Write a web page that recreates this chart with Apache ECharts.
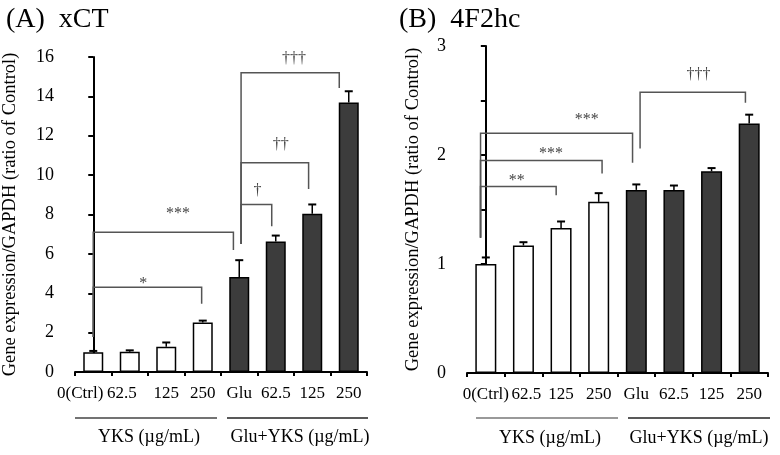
<!DOCTYPE html>
<html><head><meta charset="utf-8">
<script src="https://cdn.jsdelivr.net/npm/echarts@6/dist/echarts.min.js"></script>
<style>html,body{margin:0;padding:0;background:#fff}#c{width:780px;height:455px}</style>
</head><body><div id="c"></div>
<script>
const categories = ['0(Ctrl)', '62.5', '125', '250', 'Glu', '62.5', '125', '250'];
const groupLabels = ['YKS (µg/mL)', 'Glu+YKS (µg/mL)'];
const panelTitles = ['(A)  xCT', '(B)  4F2hc'];
const yAxisTitle = 'Gene expression/GAPDH (ratio of Control)';

const xctValues = [1.0, 1.03, 1.28, 2.51, 4.83, 6.63, 8.04, 13.69];
const xctErrors = [0.07, 0.07, 0.22, 0.10, 0.85, 0.30, 0.47, 0.57];
const f2hcValues = [1.0, 1.17, 1.33, 1.57, 1.68, 1.68, 1.85, 2.29];
const f2hcErrors = [0.06, 0.03, 0.06, 0.08, 0.05, 0.04, 0.03, 0.08];

// brackets: [xStart, xEnd, yTop, yStartBottom, yEndBottom] (category-index / data units)
const xctBrackets = [
  [0.0, 2.97, 4.31, 1.78, 3.47],
  [0.0, 3.84, 7.10, 1.78, 6.20],
  [4.05, 4.89, 8.51, 6.50, 7.40],
  [4.05, 5.90, 10.63, 6.50, 9.30],
  [4.05, 6.74, 15.20, 6.50, 14.43]
];
const xctMarks = [[1.37, 4.5, '*'], [2.32, 8.05, '***'], [4.5, 9.2, '†'], [5.14, 11.56, '††'], [5.5, 15.9, '†††']];
const f2hcBrackets = [
  [-0.14, 1.87, 1.71, 1.24, 1.63],
  [-0.14, 3.09, 1.95, 1.24, 1.83],
  [-0.14, 3.90, 2.20, 1.24, 1.93],
  [4.10, 6.90, 2.575, 2.06, 2.48]
];
const f2hcMarks = [[0.82, 1.76, '**'], [1.73, 2.01, '***'], [2.68, 2.32, '***'], [5.65, 2.74, '†††']];

const FONT = '"Liberation Serif", "Times New Roman", serif';
const WHITE = '#ffffff', DARK = '#3c3c3c';

function barSeries(values, gi, bw) {
  return {
    type: 'bar', xAxisIndex: gi * 2, yAxisIndex: gi, data: values, barWidth: bw,
    itemStyle: { color: p => p.dataIndex < 4 ? WHITE : DARK, borderColor: '#000', borderWidth: 1.5 },
    silent: true, animation: false, z: 2
  };
}
function errSeries(values, errors, gi) {
  return {
    type: 'custom', coordinateSystem: 'cartesian2d', xAxisIndex: gi * 2 + 1, yAxisIndex: gi,
    data: values.map((v, i) => [i, v, errors[i]]), animation: false, z: 3, silent: true,
    renderItem: (params, api) => {
      const i = api.value(0), v = api.value(1), e = api.value(2);
      const p0 = api.coord([i, v]), p1 = api.coord([i, v + e]);
      return { type: 'group', children: [
        { type: 'line', shape: { x1: p0[0], y1: p0[1], x2: p1[0], y2: p1[1] }, style: { stroke: '#000', lineWidth: 1.5 } },
        { type: 'line', shape: { x1: p1[0] - 4, y1: p1[1], x2: p1[0] + 4, y2: p1[1] }, style: { stroke: '#000', lineWidth: 2 } }
      ] };
    }
  };
}
function bracketSeries(brackets, gi) {
  return {
    type: 'custom', coordinateSystem: 'cartesian2d', xAxisIndex: gi * 2 + 1, yAxisIndex: gi,
    data: brackets, dimensions: ['x1', 'x2', 'top', 'b1', 'b2'],
    encode: { x: 0, y: 2 }, animation: false, z: 4, silent: true,
    renderItem: (params, api) => {
      const a = api.coord([api.value(0), api.value(3)]);
      const b = api.coord([api.value(0), api.value(2)]);
      const c = api.coord([api.value(1), api.value(2)]);
      const d = api.coord([api.value(1), api.value(4)]);
      return { type: 'polyline', shape: { points: [a, b, c, d] }, style: { stroke: '#555', lineWidth: 1.5, fill: null } };
    }
  };
}
function markSeries(marks, gi) {
  return {
    type: 'custom', coordinateSystem: 'cartesian2d', xAxisIndex: gi * 2 + 1, yAxisIndex: gi,
    data: marks.map(m => [m[0], m[1]]), animation: false, z: 5, silent: true,
    renderItem: (params, api) => {
      const p = api.coord([api.value(0), api.value(1)]);
      return { type: 'text', x: p[0], y: p[1], style: { text: marks[params.dataIndex][2], align: 'center', verticalAlign: 'middle', fontSize: 16, fontFamily: FONT, fill: '#444' } };
    }
  };
}

const axisLineStyle = { lineStyle: { color: '#000', width: 2 } };
// label nudges (padding) per panel, purely typographic
const labelPads = [
  [[0, 26, 0, 0], [0, 16, 0, 0], null, null, null, null, null, null],
  [null, [0, 0, 0, 6], null, null, null, null, null, null]
];
function catAxis(gi) {
  return {
    type: 'category', gridIndex: gi,
    data: categories.map((c, i) => labelPads[gi][i] ? { value: c, textStyle: { padding: labelPads[gi][i] } } : c),
    boundaryGap: true,
    axisLine: axisLineStyle, axisTick: { show: true, length: 4, lineStyle: { color: '#000', width: 2 } },
    axisLabel: { interval: 0, margin: 13, fontSize: 17, fontFamily: FONT, color: '#000' }
  };
}
function hiddenAxis(gi) {
  return { type: 'value', gridIndex: gi, min: -0.5, max: 7.5, show: false };
}

const chart = echarts.init(document.getElementById('c'), null, { renderer: 'canvas' });
chart.setOption({
  animation: false,
  backgroundColor: '#fff',
  title: [
    { text: panelTitles[0], left: 1, top: 1, textStyle: { fontSize: 28, fontWeight: 'normal', fontFamily: FONT, color: '#000' } },
    { text: panelTitles[1], left: 394, top: 1, textStyle: { fontSize: 28, fontWeight: 'normal', fontFamily: FONT, color: '#000' } }
  ],
  grid: [
    { left: 72, top: 57, width: 295, height: 315 },
    { left: 467, top: 46, width: 301, height: 327 }
  ],
  xAxis: [catAxis(0), hiddenAxis(0), catAxis(1), hiddenAxis(1)],
  yAxis: [
    {
      type: 'value', gridIndex: 0, min: 0, max: 16, interval: 2,
      name: yAxisTitle, nameLocation: 'middle', nameGap: 55,
      nameTextStyle: { fontSize: 18.5, fontFamily: FONT, color: '#000' },
      axisLine: { show: true, lineStyle: { color: '#000', width: 2 } },
      axisTick: { show: true, length: 5, lineStyle: { color: '#000', width: 2 } },
      axisLabel: { margin: 21, fontSize: 18, fontFamily: FONT, color: '#000' },
      splitLine: { show: false }
    },
    {
      type: 'value', gridIndex: 1, min: 0, max: 3, interval: 0.5,
      name: yAxisTitle, nameLocation: 'middle', nameGap: 44,
      nameTextStyle: { fontSize: 18.5, fontFamily: FONT, color: '#000' },
      axisLine: { show: true, lineStyle: { color: '#000', width: 2 } },
      axisTick: { show: true, length: 5, lineStyle: { color: '#000', width: 2 } },
      axisLabel: { margin: 21, fontSize: 18, fontFamily: FONT, color: '#000', formatter: v => (v % 1 === 0 ? String(v) : '') },
      splitLine: { show: false }
    }
  ],
  series: [
    barSeries(xctValues, 0, 20), errSeries(xctValues, xctErrors, 0), bracketSeries(xctBrackets, 0), markSeries(xctMarks, 0),
    barSeries(f2hcValues, 1, 21), errSeries(f2hcValues, f2hcErrors, 1), bracketSeries(f2hcBrackets, 1), markSeries(f2hcMarks, 1)
  ],
  graphic: [
    { type: 'line', shape: { x1: 75, y1: 418, x2: 217, y2: 418 }, style: { stroke: '#444', lineWidth: 1.5 } },
    { type: 'line', shape: { x1: 227, y1: 418, x2: 368, y2: 418 }, style: { stroke: '#222', lineWidth: 1.5 } },
    { type: 'line', shape: { x1: 476, y1: 418, x2: 618, y2: 418 }, style: { stroke: '#777', lineWidth: 1.5 } },
    { type: 'line', shape: { x1: 628, y1: 418, x2: 770, y2: 418 }, style: { stroke: '#222', lineWidth: 1.5 } },
    { type: 'text', x: 149, y: 437, style: { text: groupLabels[0], align: 'center', verticalAlign: 'middle', fontSize: 18, fontFamily: FONT, fill: '#000' } },
    { type: 'text', x: 300, y: 437, style: { text: groupLabels[1], align: 'center', verticalAlign: 'middle', fontSize: 18, fontFamily: FONT, fill: '#000' } },
    { type: 'text', x: 550, y: 438, style: { text: groupLabels[0], align: 'center', verticalAlign: 'middle', fontSize: 18, fontFamily: FONT, fill: '#000' } },
    { type: 'text', x: 699, y: 438, style: { text: groupLabels[1], align: 'center', verticalAlign: 'middle', fontSize: 18, fontFamily: FONT, fill: '#000' } }
  ]
});
</script></body></html>
